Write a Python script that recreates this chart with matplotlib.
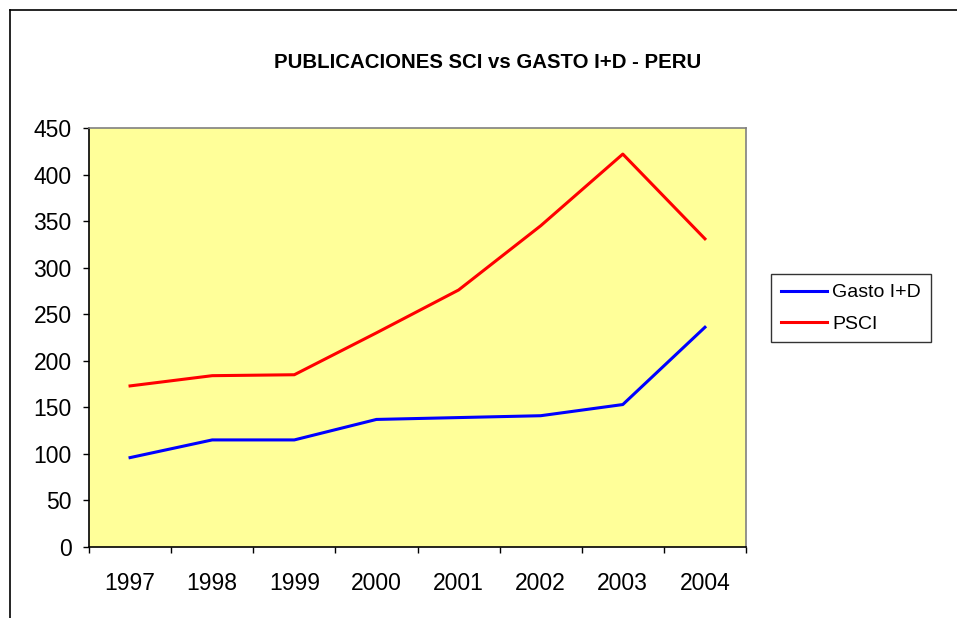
import matplotlib
matplotlib.use("Agg")
import matplotlib.pyplot as plt
from matplotlib.lines import Line2D
import numpy as np

plt.rcParams['font.family'] = ['Liberation Sans', 'DejaVu Sans']

# data
years = ['1997', '1998', '1999', '2000', '2001', '2002', '2003', '2004']
gasto = [96, 115, 115, 137, 139, 141, 153, 236]
psci = [173, 184, 185, 230, 276, 345, 422, 331]

W, H = 957, 618
fig = plt.figure(figsize=(W / 100, H / 100), dpi=100)
ax = fig.add_axes([89 / W, 1 - 547 / H, (746 - 89) / W, (547 - 128) / H])
ax.set_facecolor('#FFFF99')

x = np.arange(len(years))
ax.plot(x, gasto, color='#0000FF', lw=2.2, label='Gasto I+D')
ax.plot(x, psci, color='#FF0000', lw=2.2, label='PSCI')

ax.set_xlim(-0.5, len(years) - 0.5)
ax.set_ylim(0, 450)
ax.set_yticks(range(0, 451, 50))
ax.set_xticks(x)
ax.set_xticklabels(years)
ax.set_xticks(np.arange(-0.5, len(years), 1), minor=True)
ax.tick_params(axis='x', which='major', length=0, pad=18, labelsize=16.5)
ax.tick_params(axis='x', which='minor', length=4.5, width=1, direction='out')
ax.tick_params(axis='y', length=4.5, width=1, direction='out', pad=8, labelsize=16.5)

for s in ['left', 'bottom']:
    ax.spines[s].set_color('black')
    ax.spines[s].set_linewidth(1.2)
for s in ['top', 'right']:
    ax.spines[s].set_color('#808080')
    ax.spines[s].set_linewidth(1.2)

fig.text(488 / W, 1 - 62 / H, 'PUBLICACIONES SCI vs GASTO I+D - PERU',
         ha='center', va='center', fontsize=14.7, fontweight='bold')

leg = ax.legend(loc='upper left', bbox_to_anchor=(771 / W, 1 - 274 / H),
                bbox_transform=fig.transFigure, fontsize=14, frameon=True,
                fancybox=False, edgecolor='black', borderpad=0.5,
                handlelength=2.4, handletextpad=0.26, labelspacing=0.7,
                borderaxespad=0)
leg.get_frame().set_linewidth(1)

# outer chart border (left and top edges visible)
fig.add_artist(Line2D([10 / W, 10 / W], [0, 1 - 10 / H], color='black', lw=1.2,
                      transform=fig.transFigure))
fig.add_artist(Line2D([10 / W, 1], [1 - 10 / H, 1 - 10 / H], color='black', lw=1.2,
                      transform=fig.transFigure))

fig.savefig('out.png', dpi=100)
